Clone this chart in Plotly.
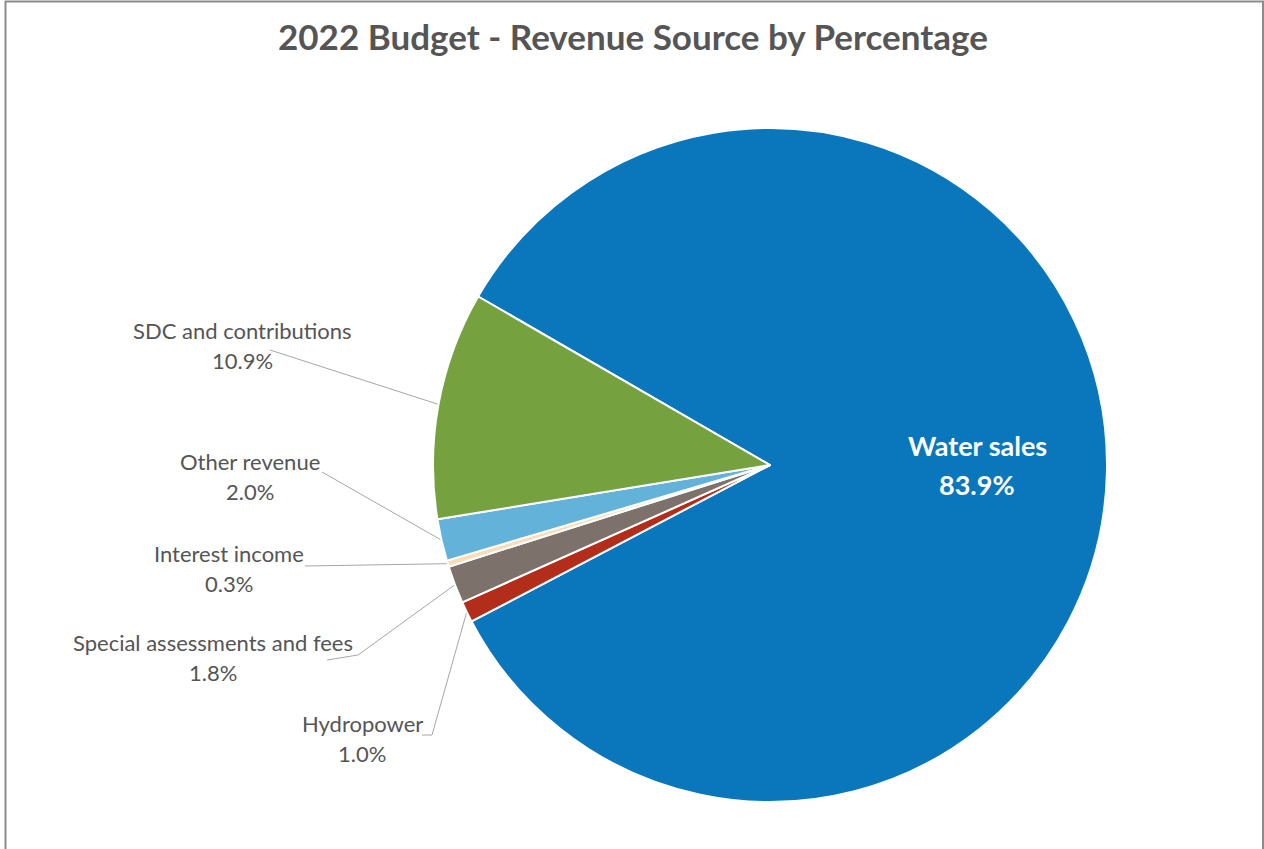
import math
import plotly.graph_objects as go

# Revenue sources (percent of 2022 budget), in drawing order
labels = ["Water sales", "Hydropower", "Special assessments and fees",
          "Interest income", "Other revenue", "SDC and contributions"]
values = [83.9, 1.0, 1.8, 0.3, 2.0, 10.9]
colors = ["#0A77BD", "#B22E1A", "#7D716B", "#F9DDB8", "#62B2D9", "#75A23E"]

W, H = 1264, 849
CX, CY, R = 770, 465, 337          # pie centre / radius in pixels
START = 300                        # first slice starts here (deg, clockwise from 12 o'clock)

TEXT_GREY = "#555555"
FONT = "Lato"

# label blocks for the small slices: (name centre x, name y, percent y, leader-line start, elbow)
label_layout = {
    "SDC and contributions":        dict(x=242, y1=330, y2=360, tail=(270, 350), elbow=None),
    "Other revenue":                dict(x=250, y1=461, y2=491, tail=(322, 472), elbow=None),
    "Interest income":              dict(x=229, y1=553, y2=583, tail=(305, 566), elbow=None),
    "Special assessments and fees": dict(x=213, y1=642, y2=672, tail=(327, 660), elbow=(358, 655)),
    "Hydropower":                   dict(x=362, y1=723, y2=753, tail=(422, 735), elbow=(432, 735)),
}

total = sum(values)


def mid_point(idx, frac=1.0):
    """Pixel position of a slice's mid-angle at frac*R from the centre."""
    start = START + 360 * sum(values[:idx]) / total
    ang = math.radians(start + 180 * values[idx] / total)
    return CX + frac * R * math.sin(ang), CY - frac * R * math.cos(ang)


fig = go.Figure()

fig.add_trace(go.Pie(
    labels=labels, values=values, sort=False, direction="clockwise",
    rotation=START, marker=dict(colors=colors, line=dict(color="white", width=2)),
    textinfo="none", hoverinfo="label+percent", showlegend=False,
    domain=dict(x=[(CX - R) / W, (CX + R) / W], y=[(H - CY - R) / H, (H - CY + R) / H]),
))

annotations = []

# leader lines and labels for the small slices
for i, name in enumerate(labels):
    if name not in label_layout:
        continue
    lay = label_layout[name]
    px, py = mid_point(i)
    xs, ys = [lay["tail"][0]], [lay["tail"][1]]
    if lay["elbow"]:
        xs.append(lay["elbow"][0]); ys.append(lay["elbow"][1])
    xs.append(px); ys.append(py)
    fig.add_trace(go.Scatter(x=xs, y=ys, mode="lines", line=dict(color="#A6A6A6", width=1),
                             hoverinfo="skip", showlegend=False))
    annotations.append(dict(x=lay["x"], y=lay["y1"], text=name, showarrow=False,
                            xref="x", yref="y", font=dict(family=FONT, size=22, color=TEXT_GREY)))
    annotations.append(dict(x=lay["x"], y=lay["y2"], text=f"{values[i]:.1f}%", showarrow=False,
                            xref="x", yref="y", font=dict(family=FONT, size=22, color=TEXT_GREY)))

# label inside the largest slice
wx, wy = mid_point(0, 0.615)
annotations.append(dict(x=wx, y=445, text=f"<b>{labels[0]}</b>", showarrow=False,
                        xref="x", yref="y", font=dict(family=FONT, size=27, color="white")))
annotations.append(dict(x=wx, y=484, text=f"<b>{values[0]:.1f}%</b>", showarrow=False,
                        xref="x", yref="y", font=dict(family=FONT, size=27, color="white")))

# chart title
annotations.append(dict(x=633, y=36, text="<b>2022 Budget - Revenue Source by Percentage</b>",
                        showarrow=False, xref="x", yref="y",
                        font=dict(family=FONT, size=35, color=TEXT_GREY)))

fig.update_layout(
    width=W, height=H, margin=dict(l=0, r=0, t=0, b=0),
    paper_bgcolor="white", plot_bgcolor="rgba(0,0,0,0)",
    xaxis=dict(range=[0, W], visible=False, fixedrange=True),
    yaxis=dict(range=[H, 0], visible=False, fixedrange=True),
    annotations=annotations,
    shapes=[dict(type="rect", xref="x", yref="y", x0=5.5, x1=1263, y0=1.5, y1=H + 20,
                 line=dict(color="#8C8C8C", width=2), fillcolor="rgba(0,0,0,0)")],
)

fig.write_html("out.html")
